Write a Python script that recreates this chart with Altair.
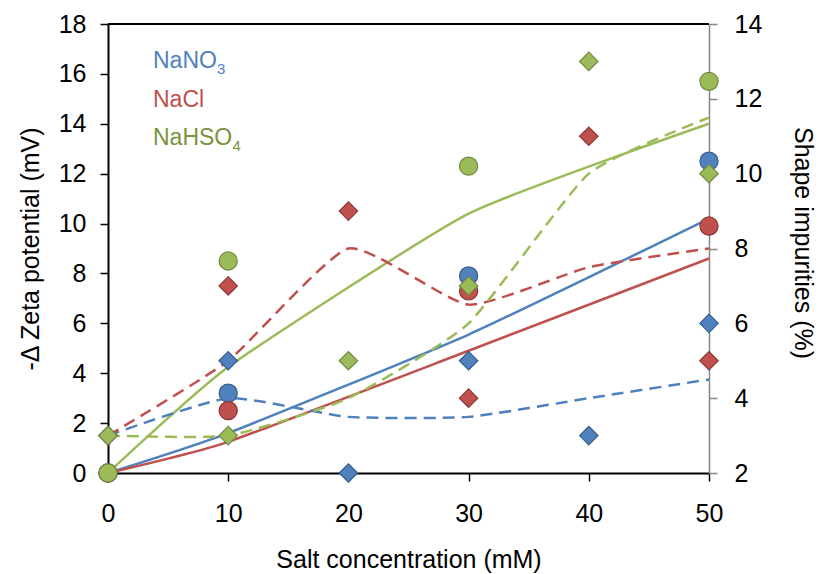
import altair as alt
import pandas as pd

# ---------------- data ----------------
series = ["NaNO3", "NaCl", "NaHSO4"]
legend_main = ["NaNO", "NaCl", "NaHSO"]
legend_sub = ["3", "", "4"]
fill_colors = ["#4F81BD", "#C0504D", "#9BBB59"]
edge_colors = ["#385D8A", "#8C3836", "#71893F"]
text_colors = ["#4F81BD", "#C0504D", "#77933C"]

x_ticks = [0, 10, 20, 30, 40, 50]
left_ticks = [0, 2, 4, 6, 8, 10, 12, 14, 16, 18]
right_ticks = [2, 4, 6, 8, 10, 12, 14]

# -Δ Zeta potential (circles, left axis)
zeta_x = [0, 10, 30, 50]
zeta_NaNO3 = [0, 3.2, 7.9, 12.5]
zeta_NaCl = [0, 2.5, 7.3, 9.9]
zeta_NaHSO4 = [0, 8.5, 12.3, 15.7]

# solid trend lines (left axis)
zeta_trend_NaNO3 = [0, 1.6, 5.55, 10.2]
zeta_trend_NaCl = [0, 1.25, 4.9, 8.6]
zeta_trend_NaHSO4 = [0, 4.25, 10.4, 14.0]

# Shape impurities (diamonds, right axis)
imp_x = [0, 10, 20, 30, 40, 50]
imp_NaNO3 = [3, 5, 2, 5, 3, 6]
imp_NaCl = [3, 7, 9, 4, 11, 5]
imp_NaHSO4 = [3, 3, 5, 7, 13, 10]

# dashed trend lines (right axis)
imp_trend_NaNO3 = [3, 4, 3.5, 3.5, 4, 4.5]
imp_trend_NaCl = [3, 5, 8, 6.5, 7.5, 8]
imp_trend_NaHSO4 = [3, 3, 4, 6, 10, 11.5]


def long_frame(xs, cols):
    rows = []
    for name, vals in zip(series, cols):
        for xv, yv in zip(xs, vals):
            rows.append({"x": xv, "v": yv, "series": name})
    return pd.DataFrame(rows)


zeta_df = long_frame(zeta_x, [zeta_NaNO3, zeta_NaCl, zeta_NaHSO4])
zeta_trend_df = long_frame(zeta_x, [zeta_trend_NaNO3, zeta_trend_NaCl, zeta_trend_NaHSO4])
imp_df = long_frame(imp_x, [imp_NaNO3, imp_NaCl, imp_NaHSO4])
imp_trend_df = long_frame(imp_x, [imp_trend_NaNO3, imp_trend_NaCl, imp_trend_NaHSO4])

W, H = 601, 449
FONT = "Liberation Sans"

x_axis = alt.Axis(
    values=x_ticks, title="Salt concentration (mM)", domainColor="#000000",
    domainWidth=2, tickColor="#000000", tickWidth=1.5, tickSize=8,
    labelFontSize=25, labelPadding=20, labelColor="#000000", labelFlush=False,
    titleFontSize=25, titleFontWeight="normal", titleColor="#000000",
    titleY=94, titleBaseline="alphabetic",
)


def X():
    return alt.X("x:Q", scale=alt.Scale(domain=[0, 50], nice=False, zero=False), axis=x_axis)


left_scale = alt.Scale(domain=[0, 18], nice=False, zero=False)
right_scale = alt.Scale(domain=[2, 14], nice=False, zero=False)

left_axis = alt.Axis(
    orient="left", values=left_ticks, title="-Δ Zeta potential (mV)",
    domainColor="#000000", domainWidth=2, tickColor="#000000", tickWidth=1.5,
    tickSize=8, labelFontSize=25, labelPadding=14, labelColor="#000000",
    labelFlush=False,
    titleFontSize=25, titleFontWeight="normal", titleColor="#000000",
    titleAngle=270, titleX=-70, titleY=H / 2, titleBaseline="alphabetic",
    titleAlign="center",
)
right_axis = alt.Axis(
    orient="right", values=right_ticks, title="Shape impurities (%)",
    domainColor="#868686", domainWidth=1.5, tickColor="#868686", tickWidth=1.5,
    tickSize=8, labelFontSize=25, labelPadding=17, labelColor="#000000",
    labelFlush=False,
    titleFontSize=25, titleFontWeight="normal", titleColor="#000000",
    titleAngle=90, titleX=85, titleY=H / 2 - 6, titleBaseline="alphabetic",
    titleAlign="center",
)

line_color = alt.Color("series:N", scale=alt.Scale(domain=series, range=fill_colors), legend=None)
mark_fill = alt.Fill("series:N", scale=alt.Scale(domain=series, range=fill_colors), legend=None)
mark_stroke = alt.Stroke("series:N", scale=alt.Scale(domain=series, range=edge_colors), legend=None)

solid = alt.Chart(zeta_trend_df).mark_line(
    strokeWidth=2.5, interpolate="cardinal", tension=0.5
).encode(
    x=X(), y=alt.Y("v:Q", scale=left_scale, axis=left_axis), color=line_color, detail="series:N"
)
dashed = alt.Chart(imp_trend_df).mark_line(
    strokeWidth=2.5, strokeDash=[12, 7], interpolate="cardinal", tension=0.5
).encode(
    x=X(), y=alt.Y("v:Q", scale=right_scale, axis=right_axis), color=line_color, detail="series:N"
)
circles = alt.Chart(zeta_df).mark_point(
    shape="circle", size=330, filled=True, opacity=1, strokeWidth=1.2
).encode(
    x=X(), y=alt.Y("v:Q", scale=left_scale, axis=None), fill=mark_fill, stroke=mark_stroke
)
diamonds = alt.Chart(imp_df).mark_point(
    shape="diamond", size=340, filled=True, opacity=1, strokeWidth=1.2
).encode(
    x=X(), y=alt.Y("v:Q", scale=right_scale, axis=None), fill=mark_fill, stroke=mark_stroke
)

top_border = alt.Chart(pd.DataFrame({"a": [0]})).mark_rule(color="#000000", strokeWidth=2).encode(
    x=alt.value(0), x2=alt.value(W), y=alt.value(0)
)

legend_layers = []
sub_offsets = [64, 0, 79.5]
for i, (lab, sub, col) in enumerate(zip(legend_main, legend_sub, text_colors)):
    base_y = 44 + 38.5 * i
    legend_layers.append(
        alt.Chart(pd.DataFrame({"t": [lab]})).mark_text(
            align="left", baseline="alphabetic", fontSize=23, font=FONT, color=col
        ).encode(text="t:N", x=alt.value(45), y=alt.value(base_y))
    )
    if sub:
        legend_layers.append(
            alt.Chart(pd.DataFrame({"t": [sub]})).mark_text(
                align="left", baseline="alphabetic", fontSize=15, font=FONT, color=col
            ).encode(text="t:N", x=alt.value(45 + sub_offsets[i]), y=alt.value(base_y + 6))
        )

chart = alt.layer(
    solid, dashed, circles, diamonds, top_border, *legend_layers
).resolve_scale(
    y="independent"
).properties(
    width=W, height=H,
    padding={"left": 100, "top": 16, "right": 107, "bottom": 100},
    autosize=alt.AutoSizeParams(type="none"),
).configure_view(
    stroke=None
).configure_axis(
    grid=False, labelFont=FONT, titleFont=FONT
)

chart.save("out.html", embed_options={"renderer": "svg", "actions": False})
